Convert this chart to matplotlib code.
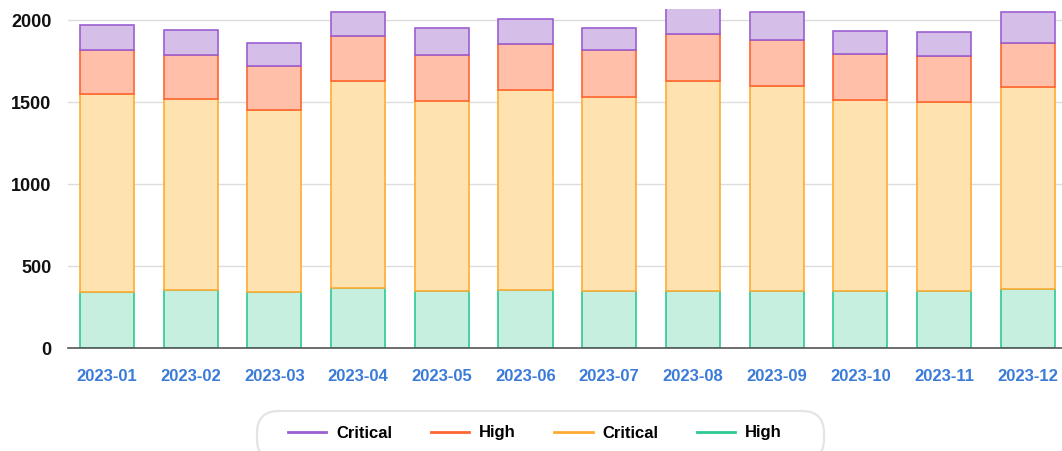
import matplotlib
matplotlib.use('Agg')
import matplotlib.pyplot as plt
from matplotlib.lines import Line2D
from matplotlib.patches import FancyBboxPatch
from matplotlib.transforms import IdentityTransform
import numpy as np

months = ['2023-01', '2023-02', '2023-03', '2023-04', '2023-05', '2023-06',
          '2023-07', '2023-08', '2023-09', '2023-10', '2023-11', '2023-12']

# stacked from the bottom up
high_low = [345, 357, 343, 368, 350, 355, 350, 349, 349, 349, 349, 362]
critical_low = [1206, 1165, 1112, 1262, 1160, 1220, 1182, 1283, 1251, 1167, 1153, 1231]
high_top = [266, 265, 266, 273, 279, 281, 285, 285, 278, 277, 279, 269]
critical_top = [153, 152, 143, 146, 166, 154, 138, 173, 173, 142, 150, 187]

series = [
    ('High', high_low, '#c6efe0', '#2ec990'),
    ('Critical', critical_low, '#fee2b0', '#ffab33'),
    ('High', high_top, '#ffbfa8', '#ff6633'),
    ('Critical', critical_top, '#d5bfe9', '#9b5fd0'),
]

plt.rcParams['font.family'] = ['Liberation Sans', 'DejaVu Sans']

fig = plt.figure(figsize=(10.62, 4.51), dpi=100)
ax = fig.add_axes([68 / 1062, 102.7 / 451, 994 / 1062, 339.3 / 451])

x = np.arange(len(months))
bottom = np.zeros(len(months))
for name, vals, fill, edge in series:
    vals = np.array(vals, dtype=float)
    ax.bar(x, vals, width=0.646, bottom=bottom, color=fill, edgecolor=edge,
           linewidth=1.2, zorder=3)
    bottom += vals

# last category runs off the right edge
ax.set_xlim(-0.466, 11.41)
ax.set_ylim(0, 2069)
ax.set_yticks([0, 500, 1000, 1500, 2000])
ax.yaxis.grid(True, color='#dcdcdc', linewidth=1)
ax.set_axisbelow(True)
for s in ['top', 'right', 'left']:
    ax.spines[s].set_visible(False)
ax.spines['bottom'].set_color('#555555')
ax.spines['bottom'].set_linewidth(1.2)
ax.spines['bottom'].set_zorder(4)

ax.set_xticks(x)
ax.set_xticklabels(months)
ax.tick_params(axis='x', length=0, pad=15, labelsize=12, labelcolor='#3b7bd8')
ax.tick_params(axis='y', length=0, pad=12, labelsize=13, labelcolor='#111111')
for lbl in ax.get_xticklabels() + ax.get_yticklabels():
    lbl.set_fontweight('bold')

# rounded legend frame, partly cut by the bottom edge
frame = FancyBboxPatch((257, -10), 567, 50,
                       boxstyle='round,pad=0,rounding_size=22',
                       transform=IdentityTransform(), facecolor='white',
                       edgecolor='#e4e4e4', linewidth=1.6)
fig.add_artist(frame)

handles = [Line2D([], [], color=edge, linewidth=2)
           for name, vals, fill, edge in reversed(series)]
labels = [name for name, vals, fill, edge in reversed(series)]
leg = fig.legend(handles, labels, loc='center', ncol=4, frameon=False,
                 bbox_to_anchor=(535 / 1062, 18 / 451),
                 prop={'weight': 'bold', 'size': 12},
                 handlelength=2.3, handletextpad=0.6, columnspacing=2.3)

fig.savefig('out.png', dpi=100)
